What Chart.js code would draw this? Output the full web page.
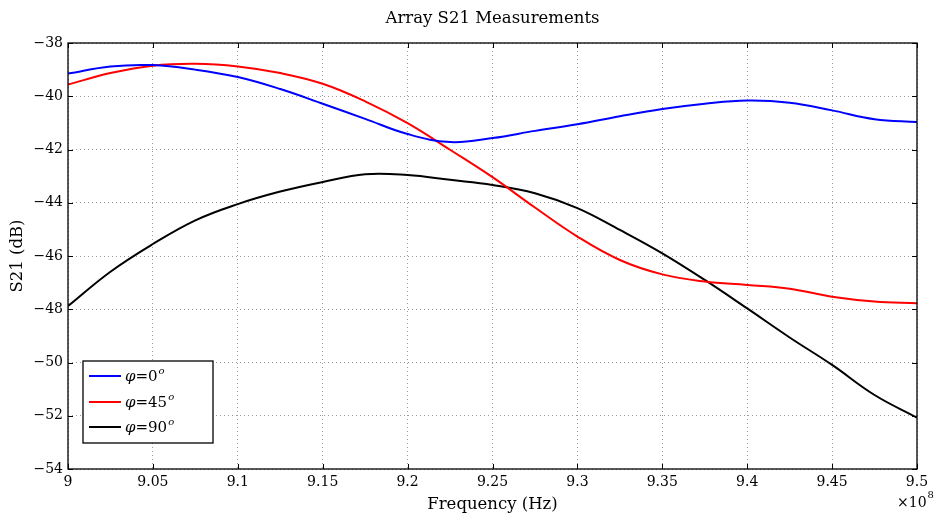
<!DOCTYPE html>
<html>
<head>
<meta charset="utf-8">
<script src="https://cdn.jsdelivr.net/npm/chart.js@4/dist/chart.umd.min.js"></script>
<style>
  html, body { margin: 0; padding: 0; background: #fff; }
  #wrap { width: 939px; height: 518px; }
</style>
</head>
<body>
<div id="wrap"><canvas id="s21"></canvas></div>
<script>
// frequency in units of 1e8 Hz
var freq = [9.000, 9.025, 9.050, 9.075, 9.100, 9.125, 9.150, 9.175, 9.200, 9.225, 9.250,
            9.275, 9.300, 9.325, 9.350, 9.375, 9.400, 9.425, 9.450, 9.475, 9.500]
var phi0  = [-39.15, -38.88, -38.83, -39.00, -39.28, -39.73, -40.28, -40.85, -41.42, -41.72, -41.57,
             -41.30, -41.05, -40.75, -40.48, -40.28, -40.16, -40.24, -40.53, -40.86, -40.97]
var phi45 = [-39.56, -39.13, -38.85, -38.78, -38.88, -39.13, -39.53, -40.19, -41.01, -42.01, -43.04,
             -44.18, -45.27, -46.15, -46.69, -46.96, -47.09, -47.23, -47.53, -47.71, -47.77]
var phi90 = [-47.88, -46.59, -45.55, -44.66, -44.05, -43.58, -43.22, -42.93, -42.96, -43.14, -43.33,
             -43.64, -44.20, -45.02, -45.90, -46.90, -47.97, -49.06, -50.09, -51.22, -52.07]
var seriesNames = ['0', '45', '90']
var seriesColors = ['#0000ff', '#ff0000', '#000000']

var serif = '"DejaVu Serif", "Liberation Serif", serif'

function pts(ys) {
  var out = []
  for (var i = 0; i < freq.length; i++) out.push({x: freq[i], y: ys[i]})
  return out
}

// frame, inward ticks, title, legend, exponent
var extras = {
  id: 'extras',
  afterDraw: function(chart) {
    var c = chart.ctx, a = chart.chartArea
    var xs = chart.scales.x, ys = chart.scales.y
    c.save()
    c.strokeStyle = '#000'
    c.lineWidth = 1.3
    c.strokeRect(a.left, a.top, a.right - a.left, a.bottom - a.top)
    c.lineWidth = 1
    c.beginPath()
    xs.ticks.forEach(function(t) {
      var px = Math.round(xs.getPixelForValue(t.value)) + 0.5
      c.moveTo(px, a.bottom); c.lineTo(px, a.bottom - 5)
      c.moveTo(px, a.top); c.lineTo(px, a.top + 5)
    })
    ys.ticks.forEach(function(t) {
      var py = Math.round(ys.getPixelForValue(t.value)) + 0.5
      c.moveTo(a.left, py); c.lineTo(a.left + 5, py)
      c.moveTo(a.right, py); c.lineTo(a.right - 5, py)
    })
    c.stroke()

    c.fillStyle = '#000'
    c.font = '16.5px ' + serif
    c.textAlign = 'center'
    c.textBaseline = 'alphabetic'
    c.fillText('Array S21 Measurements', (a.left + a.right) / 2, 23)

    // exponent
    c.font = '14px ' + serif
    c.textAlign = 'left'
    c.fillText('\u00d710', 897, 507)
    var ew = c.measureText('\u00d710').width
    c.font = '10px ' + serif
    c.fillText('8', 897 + ew + 1, 498)

    // legend
    var lx = 83, ly = 361, lw = 130, lh = 82
    c.fillStyle = '#fff'
    c.fillRect(lx, ly, lw, lh)
    c.strokeStyle = '#000'
    c.lineWidth = 1.3
    c.strokeRect(lx, ly, lw, lh)
    var rows = [376, 402, 427]
    for (var i = 0; i < seriesNames.length; i++) {
      c.strokeStyle = seriesColors[i]
      c.lineWidth = 2
      c.beginPath()
      c.moveTo(89, rows[i]); c.lineTo(121, rows[i])
      c.stroke()
      c.fillStyle = '#000'
      c.textBaseline = 'middle'
      c.font = 'italic 15px ' + serif
      c.fillText('\u03c6', 125, rows[i] + 1)
      var w = c.measureText('\u03c6').width
      c.font = '15px ' + serif
      var txt = '=' + seriesNames[i]
      c.fillText(txt, 125 + w, rows[i] + 1)
      var w2 = c.measureText(txt).width
      c.font = 'italic 10px ' + serif
      c.fillText('o', 126 + w + w2, rows[i] - 5)
    }
    c.restore()
  }
}

var options = {
  responsive: true,
  maintainAspectRatio: false,
  animation: false,
  layout: { padding: { top: 43, right: 22, left: 0, bottom: 0 } },
  plugins: {
    legend: { display: false },
    title: { display: false },
    tooltip: { enabled: false }
  },
  elements: { point: { radius: 0 }, line: { tension: 0.4 } },
  scales: {
    x: {
      type: 'linear',
      min: 9, max: 9.5,
      afterFit: function(scale) { scale.height = 49 },
      afterBuildTicks: function(scale) {
        var t = []
        for (var i = 0; i <= 10; i++) t.push({value: 9 + i * 0.05})
        scale.ticks = t
      },
      ticks: {
        color: '#000',
        padding: 5,
        maxRotation: 0,
        font: { family: serif, size: 14 },
        callback: function(v) { return String(Math.round(v * 100) / 100) }
      },
      grid: { color: '#9a9a9a', lineWidth: 1, drawTicks: false },
      border: { display: false, dash: [1, 3] },
      title: {
        display: true, text: 'Frequency (Hz)', color: '#000',
        font: { family: serif, size: 16.5 }, padding: { top: 0, bottom: 3 }
      }
    },
    y: {
      min: -54, max: -38,
      afterFit: function(scale) { scale.width = 68 },
      ticks: {
        stepSize: 2,
        color: '#000',
        padding: 5,
        font: { family: serif, size: 14 },
        callback: function(v) { return '\u2212' + Math.abs(v) }
      },
      grid: { color: '#9a9a9a', lineWidth: 1, drawTicks: false },
      border: { display: false, dash: [1, 3] },
      title: {
        display: true, text: 'S21 (dB)', color: '#000',
        font: { family: serif, size: 16.5 }, padding: { top: 8, bottom: 0 }
      }
    }
  }
}

var data = {
  datasets: [
    { label: 'phi=0', data: pts(phi0), borderColor: seriesColors[0], borderWidth: 2, fill: false },
    { label: 'phi=45', data: pts(phi45), borderColor: seriesColors[1], borderWidth: 2, fill: false },
    { label: 'phi=90', data: pts(phi90), borderColor: seriesColors[2], borderWidth: 2, fill: false }
  ]
}

var ctx = document.getElementById('s21').getContext('2d')
var s21Chart = new Chart(ctx, {
  type: 'line',
  data: data,
  options: options,
  plugins: [extras]
})
</script>
</body>
</html>
